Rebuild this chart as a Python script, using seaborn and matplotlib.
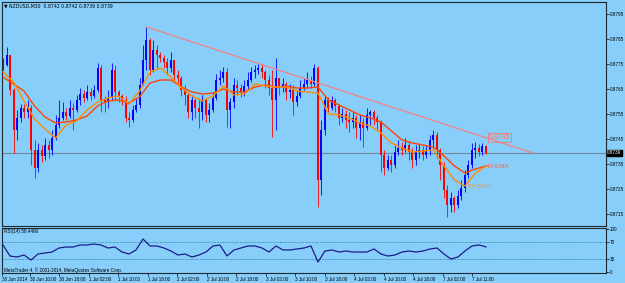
import numpy as np
import pandas as pd
import matplotlib
matplotlib.use("Agg")
import matplotlib.pyplot as plt
import matplotlib.transforms as mtransforms
import seaborn as sns

# ---------------- data ----------------
symbol_title = "NZDUSD,M30  0.8742 0.8742 0.8739 0.8739"
first_open = 0.87746

close = [0.87746, 0.87786, 0.87646, 0.87486, 0.87534, 0.87574, 0.87558, 0.87574, 0.87406, 0.87334,
         0.87406, 0.87382, 0.87426, 0.87406, 0.87454, 0.87506, 0.87534, 0.87558, 0.87542, 0.87574,
         0.87566, 0.87606, 0.87630, 0.87614, 0.87638, 0.87622, 0.87646, 0.87734, 0.87606, 0.87598,
         0.87614, 0.87726, 0.87638, 0.87622, 0.87606, 0.87534, 0.87526, 0.87566, 0.87586, 0.87666,
         0.87766, 0.87846, 0.87726, 0.87806, 0.87786, 0.87774, 0.87758, 0.87734, 0.87766, 0.87706,
         0.87694, 0.87646, 0.87626, 0.87558, 0.87606, 0.87574, 0.87558, 0.87606, 0.87546, 0.87566,
         0.87614, 0.87686, 0.87694, 0.87718, 0.87566, 0.87598, 0.87666, 0.87654, 0.87638, 0.87662,
         0.87686, 0.87718, 0.87726, 0.87734, 0.87718, 0.87686, 0.87654, 0.87606, 0.87694, 0.87654,
         0.87670, 0.87638, 0.87646, 0.87598, 0.87622, 0.87654, 0.87670, 0.87686, 0.87670, 0.87734,
         0.87286, 0.87486, 0.87606, 0.87574, 0.87606, 0.87582, 0.87534, 0.87550, 0.87526, 0.87518,
         0.87534, 0.87494, 0.87518, 0.87494, 0.87546, 0.87558, 0.87534, 0.87518, 0.87386, 0.87334,
         0.87366, 0.87346, 0.87398, 0.87414, 0.87406, 0.87426, 0.87398, 0.87366, 0.87398, 0.87406,
         0.87386, 0.87406, 0.87446, 0.87466, 0.87406, 0.87346, 0.87246, 0.87186, 0.87214, 0.87186,
         0.87222, 0.87254, 0.87306, 0.87346, 0.87406, 0.87414, 0.87398, 0.87422, 0.87394]

high = [0.87774, 0.87818, 0.87786, 0.87654, 0.87566, 0.87590, 0.87590, 0.87606, 0.87586, 0.87446,
        0.87434, 0.87426, 0.87454, 0.87446, 0.87486, 0.87546, 0.87606, 0.87598, 0.87574, 0.87606,
        0.87594, 0.87626, 0.87654, 0.87646, 0.87666, 0.87654, 0.87666, 0.87754, 0.87746, 0.87622,
        0.87646, 0.87754, 0.87746, 0.87646, 0.87630, 0.87622, 0.87558, 0.87586, 0.87614, 0.87694,
        0.87826, 0.87898, 0.87854, 0.87846, 0.87826, 0.87798, 0.87786, 0.87774, 0.87798, 0.87766,
        0.87726, 0.87702, 0.87666, 0.87638, 0.87626, 0.87614, 0.87614, 0.87626, 0.87614, 0.87594,
        0.87638, 0.87710, 0.87726, 0.87738, 0.87734, 0.87614, 0.87694, 0.87686, 0.87670, 0.87686,
        0.87718, 0.87738, 0.87746, 0.87750, 0.87746, 0.87726, 0.87706, 0.87726, 0.87774, 0.87694,
        0.87694, 0.87678, 0.87670, 0.87666, 0.87646, 0.87686, 0.87694, 0.87718, 0.87702, 0.87750,
        0.87742, 0.87526, 0.87622, 0.87618, 0.87622, 0.87614, 0.87590, 0.87574, 0.87566, 0.87558,
        0.87558, 0.87546, 0.87546, 0.87534, 0.87574, 0.87566, 0.87566, 0.87546, 0.87526, 0.87406,
        0.87386, 0.87386, 0.87426, 0.87446, 0.87438, 0.87454, 0.87438, 0.87414, 0.87426, 0.87430,
        0.87422, 0.87426, 0.87466, 0.87486, 0.87478, 0.87414, 0.87358, 0.87266, 0.87238, 0.87222,
        0.87246, 0.87286, 0.87326, 0.87366, 0.87434, 0.87438, 0.87430, 0.87434, 0.87426]

low = [0.87726, 0.87742, 0.87626, 0.87394, 0.87446, 0.87518, 0.87534, 0.87534, 0.87346, 0.87294,
       0.87318, 0.87358, 0.87366, 0.87374, 0.87386, 0.87446, 0.87494, 0.87526, 0.87526, 0.87534,
       0.87486, 0.87558, 0.87586, 0.87598, 0.87606, 0.87606, 0.87614, 0.87638, 0.87558, 0.87558,
       0.87574, 0.87606, 0.87606, 0.87598, 0.87586, 0.87518, 0.87498, 0.87518, 0.87558, 0.87574,
       0.87666, 0.87726, 0.87706, 0.87718, 0.87734, 0.87758, 0.87734, 0.87706, 0.87718, 0.87686,
       0.87666, 0.87622, 0.87586, 0.87534, 0.87526, 0.87534, 0.87494, 0.87526, 0.87518, 0.87518,
       0.87558, 0.87606, 0.87666, 0.87678, 0.87498, 0.87494, 0.87574, 0.87626, 0.87618, 0.87622,
       0.87646, 0.87678, 0.87694, 0.87710, 0.87694, 0.87654, 0.87626, 0.87458, 0.87486, 0.87626,
       0.87638, 0.87606, 0.87614, 0.87546, 0.87582, 0.87614, 0.87646, 0.87654, 0.87654, 0.87662,
       0.87178, 0.87226, 0.87466, 0.87558, 0.87566, 0.87558, 0.87506, 0.87518, 0.87494, 0.87478,
       0.87494, 0.87454, 0.87446, 0.87418, 0.87486, 0.87506, 0.87506, 0.87486, 0.87318, 0.87306,
       0.87326, 0.87318, 0.87334, 0.87386, 0.87386, 0.87398, 0.87366, 0.87334, 0.87346, 0.87374,
       0.87366, 0.87374, 0.87386, 0.87414, 0.87374, 0.87286, 0.87214, 0.87138, 0.87158, 0.87158,
       0.87174, 0.87206, 0.87238, 0.87294, 0.87334, 0.87374, 0.87382, 0.87386, 0.87390]

# moving averages, sampled every 3 bars (bars 0..138)
ema40 = [0.87698, 0.87670, 0.87642, 0.87582, 0.87538, 0.87514, 0.87518, 0.87526, 0.87542, 0.87582,
         0.87602, 0.87606, 0.87594, 0.87618, 0.87674, 0.87686, 0.87686, 0.87658, 0.87638, 0.87630,
         0.87634, 0.87650, 0.87638, 0.87638, 0.87658, 0.87666, 0.87658, 0.87662, 0.87654, 0.87654,
         0.87658, 0.87606, 0.87586, 0.87566, 0.87546, 0.87534, 0.87518, 0.87482, 0.87446, 0.87434,
         0.87426, 0.87418, 0.87382, 0.87342, 0.87314, 0.87330, 0.87342]
ema20 = [0.87718, 0.87678, 0.87602, 0.87530, 0.87490, 0.87454, 0.87506, 0.87522, 0.87566, 0.87598,
         0.87614, 0.87622, 0.87590, 0.87642, 0.87718, 0.87734, 0.87698, 0.87654, 0.87622, 0.87602,
         0.87622, 0.87662, 0.87626, 0.87630, 0.87670, 0.87662, 0.87658, 0.87658, 0.87642, 0.87638,
         0.87634, 0.87550, 0.87546, 0.87534, 0.87514, 0.87502, 0.87474, 0.87434, 0.87414, 0.87398,
         0.87402, 0.87406, 0.87342, 0.87286, 0.87262, 0.87314, 0.87342]

# RSI(14), sampled every 2 bars (bars 0..138)
rsi = [62.8, 37.2, 34.9, 39.5, 27.9, 41.9, 44.2, 46.5, 55.8, 58.1,
       58.1, 62.8, 62.8, 65.1, 62.8, 55.8, 58.1, 46.5, 41.9, 51.2,
       76.7, 60.5, 60.5, 55.8, 48.8, 39.5, 41.9, 34.9, 39.5, 46.5,
       60.5, 62.8, 37.2, 51.2, 55.8, 60.5, 60.5, 55.8, 46.5, 60.5,
       51.2, 51.2, 53.5, 55.8, 60.5, 23.3, 48.8, 51.2, 46.5, 48.8,
       46.5, 46.5, 46.5, 53.5, 41.9, 37.2, 39.5, 46.5, 48.8, 46.5,
       48.8, 53.5, 55.8, 41.9, 30.2, 34.9, 48.8, 60.5, 62.8, 58.4]
rsi_label = "RSI(14) 58.4490"

# trend line anchors (bar, price) and its label value
trend_bar = [41, 151.4]
trend_price = [0.87898, 0.87394]
trend_label = "0.8745"

price_ticks = [0.8715, 0.8725, 0.8735, 0.8745, 0.8755, 0.8765, 0.8775, 0.8785, 0.8795]
rsi_ticks = [0, 30, 70, 100]
time_labels = ["30 Jun 2014", "30 Jun 10:00", "30 Jun 18:00", "1 Jul 02:00", "1 Jul 10:00",
               "1 Jul 18:00", "2 Jul 02:00", "2 Jul 10:00", "2 Jul 18:00", "3 Jul 02:00",
               "3 Jul 10:00", "3 Jul 18:00", "4 Jul 02:00", "4 Jul 10:00", "4 Jul 18:00",
               "7 Jul 02:00", "7 Jul 11:00"]
copyright_text = "MetaTrader 4, \u00a9 2001-2014, MetaQuotes Software Corp."

# ---------------- figure ----------------
BG = "#87CEFA"
FRAME = "#1f2a30"
FS = 3.3
plt.rcParams["font.family"] = ["Liberation Sans Narrow", "Liberation Sans", "DejaVu Sans"]

W, H = 625, 283
fig = plt.figure(figsize=(W / 100, H / 100), dpi=100)
fig.patch.set_facecolor(BG)


def rect(x0, y0, x1, y1):
    return [x0 / W, 1 - y1 / H, (x1 - x0) / W, (y1 - y0) / H]


ax = fig.add_axes(rect(2, 2, 606, 226))
ax2 = fig.add_axes(rect(2, 228, 606, 273))
for a in (ax, ax2):
    a.set_facecolor(BG)
    for s in a.spines.values():
        s.set_color(FRAME)
        s.set_linewidth(0.8)

n = len(close)
opens = [first_open] + close[:-1]
df = pd.DataFrame({"bar": np.arange(n), "open": opens, "high": high, "low": low, "close": close})
up = df["close"] >= df["open"]
cols = np.where(up, "#0000FF", "#FF0000")

# current price line (behind candles)
ax.axhline(close[-1], color="#6f8797", lw=0.8, zorder=1)

ax.vlines(df["bar"], df["low"], df["high"], colors=cols, lw=0.6, zorder=2)
ax.vlines(df["bar"], df["open"], df["close"], colors=cols, lw=1.4, zorder=3)

ema_df = pd.DataFrame({"bar": np.arange(0, n, 3), "ema40": ema40, "ema20": ema20})
sns.lineplot(data=ema_df, x="bar", y="ema40", color="#FF4500", lw=1.0, ax=ax, zorder=4)
sns.lineplot(data=ema_df, x="bar", y="ema20", color="#FF8C00", lw=1.0, ax=ax, zorder=4)

# trend line
ax.plot(trend_bar, trend_price, color="#F58080", lw=0.9, zorder=4)

ax.set_xlim(-0.29, 172.3)
ax.set_ylim(0.87102, 0.87998)
ax.set_xlabel("")
ax.set_ylabel("")
ax.set_xticks([])
ax.yaxis.tick_right()
ax.set_yticks(price_ticks)
ax.set_yticklabels([f"{v:.4f}" for v in price_ticks])
ax.tick_params(axis="y", length=2, width=0.5, pad=0.8, labelsize=FS, colors="black")

# text objects on the chart
ax.text(138.9, 0.87456, trend_label, fontsize=5.0, color="#F08070", va="center", ha="left",
        bbox=dict(boxstyle="square,pad=0.1", fc="none", ec="#F08070", lw=0.6), zorder=5)
ax.text(138.0, 0.87338, "40 EMA", fontsize=4.6, color="#F06A4A", va="center", ha="left", zorder=5)
ax.text(132.9, 0.87262, "20 EMA", fontsize=4.6, color="#F59A45", va="center", ha="left", zorder=5)

# current price tag on the right axis
tr = mtransforms.blended_transform_factory(ax.transAxes, ax.transData)
ax.text(1.002, close[-1], f"{close[-1]:.4f}", transform=tr, fontsize=FS, color="white",
        va="center", ha="left", bbox=dict(boxstyle="square,pad=0.15", fc="black", ec="black"),
        zorder=6, clip_on=False)

# ---------------- RSI panel ----------------
rsi_df = pd.DataFrame({"bar": np.arange(0, n, 2), "rsi": rsi})
ax2.axhline(70, color="#2f7f95", lw=0.6, ls=(0, (1.5, 1.5)))
ax2.axhline(30, color="#2f7f95", lw=0.6, ls=(0, (1.5, 1.5)))
sns.lineplot(data=rsi_df, x="bar", y="rsi", color="#1c1c8a", lw=0.9, ax=ax2)
ax2.set_xlim(-0.29, 172.3)
ax2.set_ylim(-2.3, 102.3)
ax2.set_xlabel("")
ax2.set_ylabel("")
ax2.yaxis.tick_right()
ax2.set_yticks(rsi_ticks)
ax2.set_yticklabels([str(v) for v in rsi_ticks])
ax2.tick_params(axis="y", length=2, width=0.5, pad=0.8, labelsize=FS, colors="black")

tick_pos = [-0.29] + [7.7 + 8.43 * k for k in range(len(time_labels) - 1)]
ax2.set_xticks(tick_pos)
ax2.set_xticklabels(time_labels, ha="left")
ax2.tick_params(axis="x", length=2, width=0.5, pad=1.2, labelsize=FS, colors="black")

# header texts
fig.text(4 / W, 1 - 5.5 / H, "\u25bc " + symbol_title, fontsize=FS, va="center", ha="left",
         family=["Liberation Sans Narrow", "DejaVu Sans"])
fig.text(4 / W, 1 - 231 / H, rsi_label, fontsize=FS, va="center", ha="left")
fig.text(4 / W, 1 - 270.5 / H, copyright_text, fontsize=FS, va="center", ha="left")

fig.savefig("out.png", dpi=100, facecolor=BG)
